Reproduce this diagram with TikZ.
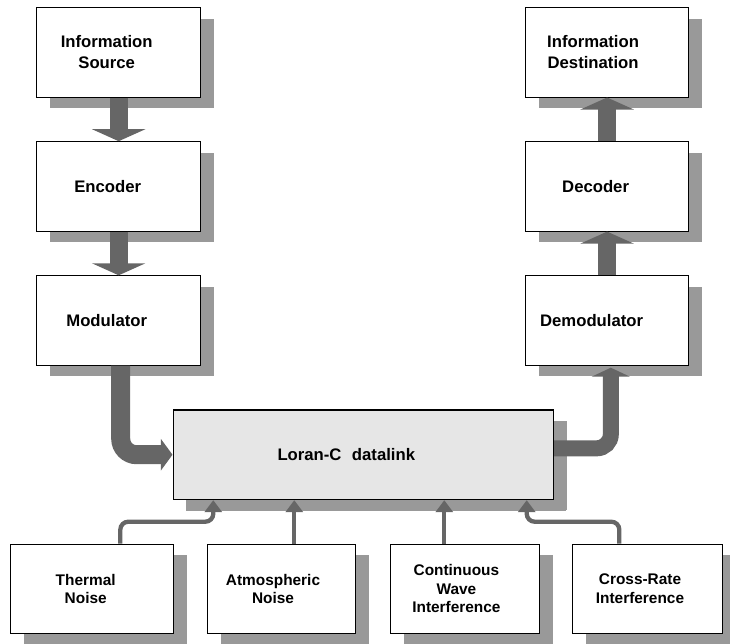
\documentclass[tikz,border=0pt]{standalone}
\usepackage{fontspec}
\setmainfont{Liberation Sans}
\usetikzlibrary{shadows,arrows.meta}
\definecolor{shadowgray}{HTML}{999999}
\definecolor{arrowgray}{HTML}{666666}
\definecolor{linkfill}{HTML}{E6E6E6}
\begin{document}
\begin{tikzpicture}[x=1pt,y=-1pt,
  box/.style={draw=black, line width=0.9pt, fill=white, inner sep=0pt,
    general shadow={fill=shadowgray, shadow xshift=13.5pt, shadow yshift=-11pt}},
  bigbox/.style={box, minimum width=164pt, minimum height=89.5pt},
  smallbox/.style={box, minimum height=89.5pt},
  biglabel/.style={font=\fontsize{16.7}{20.6}\selectfont\bfseries, align=center},
  smalllabel/.style={font=\fontsize{15.4}{18.3}\selectfont\bfseries, align=center},
  fatarrow/.style={draw=arrowgray, line width=18pt,
    -{Triangle[width=53pt,length=12pt]}},
  thinarrow/.style={draw=arrowgray, line width=4.3pt, rounded corners=8pt,
    -{Triangle[width=17pt,length=12pt]}}]
\useasboundingbox (0,0) rectangle (730,643);

% transmitter chain
\node[bigbox, label={[biglabel, xshift=-12pt]center:Information\\Source}] (src) at (118.7,52.3) {};
\node[bigbox, label={[biglabel, xshift=-11pt]center:Encoder}] (enc) at (118.7,186.4) {};
\node[bigbox, label={[biglabel, xshift=-12pt]center:Modulator}] (mod) at (118.7,320.5) {};

% receiver chain
\node[bigbox, minimum width=163pt, label={[biglabel, xshift=-14pt]center:Information\\Destination}] (dst) at (607.1,52.3) {};
\node[bigbox, minimum width=163pt, label={[biglabel, xshift=-11.5pt]center:Decoder}] (dec) at (607.1,186.4) {};
\node[bigbox, minimum width=163pt, label={[biglabel, xshift=-15.5pt]center:Demodulator}] (demod) at (607.1,320.5) {};

% channel
\node[box, fill=linkfill, line width=1.6pt, minimum width=380pt, minimum height=89.3pt,
  general shadow={fill=shadowgray, shadow xshift=12.7pt, shadow yshift=-11.7pt},
  label={[biglabel, xshift=-17pt]center:Loran-C\hspace{0.35em} datalink}] (link) at (363.3,454.7) {};

% disturbances
\node[smallbox, minimum width=163.3pt, label={[smalllabel, xshift=-6pt]center:Thermal\\Noise}] (thermal) at (91.7,588.7) {};
\node[smallbox, minimum width=148.4pt, label={[smalllabel, xshift=-8.5pt]center:Atmospheric\\Noise}] (atmos) at (281.5,588.7) {};
\node[smallbox, minimum width=148.3pt, label={[smalllabel, xshift=-8.5pt]center:Continuous\\Wave\\Interference}] (cw) at (464.9,588.7) {};
\node[smallbox, minimum width=149.6pt, label={[smalllabel, xshift=-7.5pt]center:Cross-Rate\\Interference}] (cross) at (647.5,588.7) {};

% signal flow
\draw[fatarrow] (src.south) -- (enc.north);
\draw[fatarrow] (enc.south) -- (mod.north);
\draw[fatarrow] (dec.north) -- (dst.south);
\draw[fatarrow] (demod.north) -- (dec.south);
\draw[draw=arrowgray, line width=19pt, rounded corners=16pt,
  -{Triangle[width=31pt,length=11.6pt]}]
  ([xshift=2pt]mod.south) |- (link.west);
\draw[draw=arrowgray, line width=16pt, rounded corners=14pt,
  -{Triangle[width=38pt,length=9pt]}]
  ([yshift=6.4pt]link.east) -| ([xshift=3.7pt,yshift=-2pt]demod.south);

% noise inputs
\coordinate (thermalbend) at (120.3,521.7);
\coordinate (crossbend) at (619.3,521.7);
\draw[thinarrow] (thermal.north -| thermalbend) -- (thermalbend) -| (link.south -| 213.3,0);
\draw[thinarrow] (atmos.north -| 294.3,0) -- (link.south -| 294.3,0);
\draw[thinarrow] (cw.north -| 444.3,0) -- (link.south -| 444.3,0);
\draw[thinarrow] (cross.north -| crossbend) -- (crossbend) -| (link.south -| 526.7,0);
\end{tikzpicture}
\end{document}
